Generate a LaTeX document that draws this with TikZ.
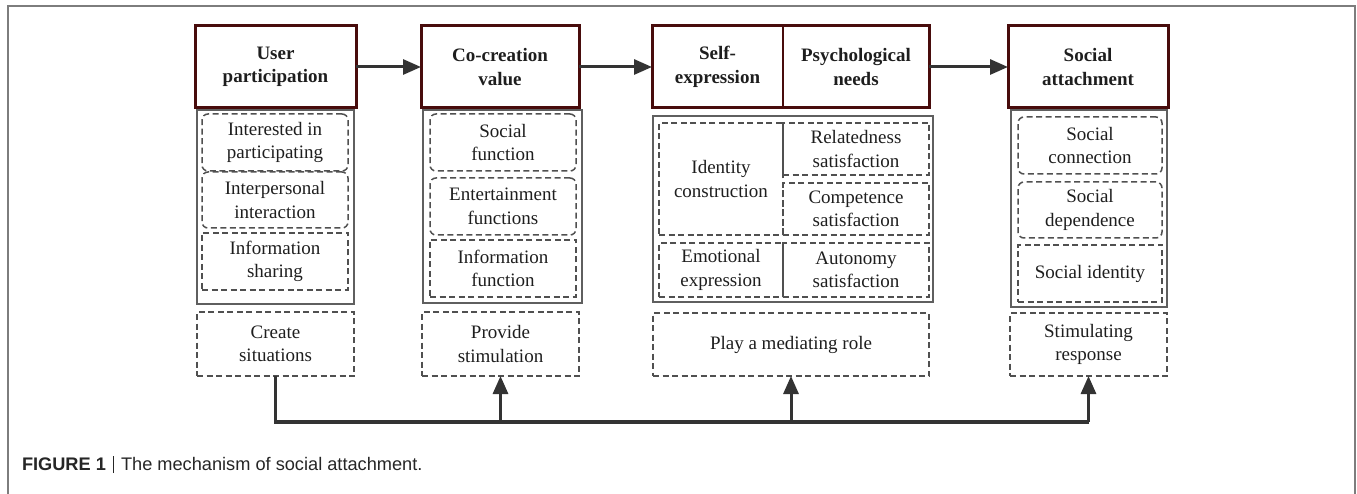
\documentclass[tikz,border=0pt]{standalone}
\usepackage{fontspec}
\setmainfont{Liberation Serif}
\newfontfamily\capfont{Liberation Sans}
\usetikzlibrary{arrows.meta,calc}
\definecolor{hdrc}{RGB}{72,12,12}
\definecolor{linec}{RGB}{51,51,51}
\definecolor{dashc}{RGB}{80,80,80}
\definecolor{contc}{RGB}{95,95,95}
\definecolor{framec}{RGB}{125,125,125}
\definecolor{txtc}{RGB}{30,30,30}
\newcommand\bx[7]{\node[#2, minimum width={#5-#3}, minimum height={#6-#4}] (#1) at ({(#3+#5)/2},{(#4+#6)/2}) {#7};}
\begin{document}
\begin{tikzpicture}[x=1pt,y=-1pt,
 every node/.style={inner sep=0pt, outer sep=0pt, text=txtc, align=center, font=\fontsize{19}{23.5}\selectfont},
 hdrtxt/.style={font=\bfseries\fontsize{19}{23.5}\selectfont},
 hdr/.style={hdrtxt, draw=hdrc, line width=3pt},
 cont/.style={draw=contc, line width=2pt},
 item/.style={draw=dashc, line width=1.5pt, dash pattern=on 6pt off 3.5pt},
 ritem/.style={item, rounded corners=6pt},
 arr/.style={draw=linec, line width=3pt, -{Triangle[length=18pt,width=15pt]}},
 bus/.style={draw=linec, line width=3.5pt},
]
\useasboundingbox (0,0) rectangle (1357,494);
\draw[framec, line width=2pt] (8,494) -- (8,6) -- (1355,6) -- (1355,494);

% headers
\bx{h1}{hdr}{195}{26}{356}{108}{User\\participation}
\bx{h2}{hdr}{421}{26}{579}{108}{Co-creation\\value}
\bx{h3a}{hdrtxt}{652}{26}{783}{108}{Self-\\expression}
\bx{h3b}{hdrtxt}{783}{26}{929}{108}{Psychological\\needs}
\draw[hdrc, line width=3pt] (h3a.north west) rectangle (h3b.south east);
\draw[hdrc, line width=1.5pt] (h3a.north east) -- (h3a.south east);
\bx{h4}{hdr}{1008}{26}{1168}{108}{Social\\attachment}

% containers
\bx{c1}{cont}{197}{110}{354}{304}{}
\bx{c2}{cont}{423}{110}{582}{303}{}
\bx{c3}{cont}{653}{116}{933}{302}{}
\bx{c4}{cont}{1011}{110}{1167}{307}{}

% items column 1
\bx{a1}{ritem}{202}{114}{348}{171}{Interested in\\participating}
\bx{a2}{ritem}{202}{172}{348}{228}{Interpersonal\\interaction}
\bx{a3}{item}{202}{233}{348}{290}{Information\\sharing}
% items column 2
\bx{b1}{ritem}{430}{114}{576}{171}{Social\\function}
\bx{b2}{ritem}{430}{178}{576}{235}{Entertainment\\functions}
\bx{b3}{item}{430}{240}{576}{297}{Information\\function}
% items column 3
\bx{e1}{item}{659}{123}{783}{235}{Identity\\construction}
\bx{e2}{item}{783}{123}{929}{175}{Relatedness\\satisfaction}
\bx{e3}{item}{783}{183}{929}{235}{Competence\\satisfaction}
\bx{e4}{item}{659}{243}{783}{297}{Emotional\\expression}
\bx{e5}{item}{783}{243}{929}{297}{Autonomy\\satisfaction}
% items column 4
\bx{d1}{ritem}{1018}{117}{1162}{174}{Social\\connection}
\bx{d2}{ritem}{1018}{182}{1162}{238}{Social\\dependence}
\bx{d3}{item}{1018}{245}{1162}{302}{Social identity}

% bottom boxes
\bx{f1}{item}{197}{312}{354}{376}{Create\\situations}
\bx{f2}{item}{422}{312}{579}{376}{Provide\\stimulation}
\bx{f3}{item}{653}{313}{929}{376}{Play a mediating role}
\bx{f4}{item}{1010}{313}{1167}{376}{Stimulating\\response}

% top arrows
\draw[arr] (h1.east) -- (h2.west);
\draw[arr] (h2.east) -- (h3a.west);
\draw[arr] (h3b.east) -- (h4.west);

% bus
\coordinate (bus1) at (f1.south |- 0,422);
\coordinate (bus2) at (f2.south |- 0,422);
\coordinate (bus3) at (f3.south |- 0,422);
\coordinate (bus4) at (f4.south |- 0,422);
\draw[bus, line join=miter] (f1.south) -- (bus1) -- (bus4);
\draw[arr] (bus2) -- (f2.south);
\draw[arr] (bus3) -- (f3.south);
\draw[arr] (bus4) -- (f4.south);

% caption
\node[anchor=base west, font=\capfont\fontsize{18.2}{20}\selectfont, text=black!85] (cap) at (22,470) {\textbf{FIGURE 1}\hspace{7pt}\rule[-3pt]{1.1pt}{17pt}\hspace{7pt}The mechanism of social attachment.};
\end{tikzpicture}
\end{document}
